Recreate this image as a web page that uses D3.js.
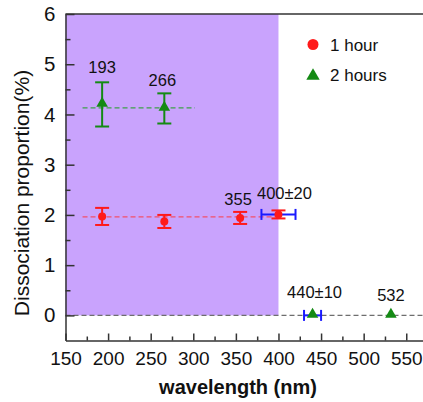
<!DOCTYPE html>
<html><head><meta charset="utf-8">
<script src="https://cdn.jsdelivr.net/npm/d3@7"></script>
<style>
html,body{margin:0;padding:0;background:#fff;}
svg{display:block;font-family:"Liberation Sans",Arial,sans-serif;}
</style></head>
<body>
<svg id="c" width="423" height="402"></svg>
<script>
// ---- data ----
const hour1Wavelength = [193, 266, 355, 400];
const hour1Value      = [1.97, 1.87, 1.94, 2.01];
const hour1Err        = [0.17, 0.13, 0.12, 0.08];
const hour1XErr       = [0, 0, 0, 20];

const hour2Wavelength = [193, 266, 440, 532];
const hour2Value      = [4.20, 4.12, 0, 0];
const hour2Err        = [0.44, 0.30, 0, 0];
const hour2XErr       = [0, 0, 10, 0];

const hour1Mean = 1.96, hour1Span = [170, 400];
const hour2Mean = 4.13, hour2Span = [170, 302];
const uvRegion = [150, 400];

const annotText = ["193", "266", "355", "400\u00b120", "440\u00b110", "532"];
const annotWl   = [193, 266, 355, 400, 440, 532];
const annotVal  = [4.64, 4.42, 2.06, 2.10, 0, 0];

const xTicks = [150, 200, 250, 300, 350, 400, 450, 500, 550];
const yTicks = [0, 1, 2, 3, 4, 5, 6];
const legendLabels = ["1 hour", "2 hours"];

// ---- layout ----
const svg = d3.select("#c");
const x = d3.scaleLinear().domain([150, 570]).range([65.5, 423.3]);
const y = d3.scaleLinear().domain([-0.5, 6]).range([340.5, 14]);
const axisColor = "#333";
const red = "#ff1a1a", green = "#148a14", blue = "#1a1aff";

// purple region
svg.append("rect")
  .attr("x", x(uvRegion[0])).attr("y", y(6))
  .attr("width", x(uvRegion[1]) - x(uvRegion[0]))
  .attr("height", y(0) - y(6))
  .attr("fill", "#c9a3fd");

// dashed lines
svg.append("line").attr("x1", x(150)).attr("x2", x(570)).attr("y1", y(0)).attr("y2", y(0))
  .attr("stroke", "#6e6e6e").attr("stroke-width", 1.2).attr("stroke-dasharray", "5,3");
svg.append("line").attr("x1", x(hour1Span[0])).attr("x2", x(hour1Span[1])).attr("y1", y(hour1Mean)).attr("y2", y(hour1Mean))
  .attr("stroke", "#f2506a").attr("stroke-width", 1.3).attr("stroke-dasharray", "5,3");
svg.append("line").attr("x1", x(hour2Span[0])).attr("x2", x(hour2Span[1])).attr("y1", y(hour2Mean)).attr("y2", y(hour2Mean))
  .attr("stroke", "#3fa04a").attr("stroke-width", 1.3).attr("stroke-dasharray", "5,3");

// axes
const minorX = d3.range(175, 570, 50);
const minorY = [0.5, 1.5, 2.5, 3.5, 4.5, 5.5];

const gx = svg.append("g").attr("transform", `translate(0,${y(-0.5)})`)
  .call(d3.axisBottom(x).tickValues(xTicks).tickSize(-7).tickSizeOuter(0).tickPadding(11).tickFormat(d3.format("d")));
const gxm = svg.append("g").attr("transform", `translate(0,${y(-0.5)})`)
  .call(d3.axisBottom(x).tickValues(minorX).tickSize(-4).tickSizeOuter(0).tickFormat(""));
const gy = svg.append("g").attr("transform", `translate(${x(150)},0)`)
  .call(d3.axisLeft(y).tickValues(yTicks).tickSize(-9).tickSizeOuter(0).tickPadding(10).tickFormat(d3.format("d")));
const gym = svg.append("g").attr("transform", `translate(${x(150)},0)`)
  .call(d3.axisLeft(y).tickValues(minorY).tickSize(-5).tickSizeOuter(0).tickFormat(""));
[gx, gxm, gy, gym].forEach(g => {
  g.selectAll("path,line").attr("stroke", axisColor).attr("stroke-width", 1.5);
  g.selectAll("text").attr("fill", "#111")
    .attr("font-family", "'Liberation Sans',Arial,sans-serif");
});
gx.selectAll("text").attr("font-size", 19);
gy.selectAll("text").attr("font-size", 20.5);
gxm.select("path").remove(); gym.select("path").remove();
// top border
svg.append("line").attr("x1", x(150)).attr("x2", 423).attr("y1", y(6)).attr("y2", y(6))
  .attr("stroke", axisColor).attr("stroke-width", 1.5);

// error bars helper
function vErr(g, cx, v, e, col) {
  if (!e) return;
  g.append("line").attr("x1", cx).attr("x2", cx).attr("y1", y(v - e)).attr("y2", y(v + e)).attr("stroke", col).attr("stroke-width", 2);
  [v - e, v + e].forEach(t => g.append("line").attr("x1", cx - 7).attr("x2", cx + 7).attr("y1", y(t)).attr("y2", y(t)).attr("stroke", col).attr("stroke-width", 2));
}
function hErr(g, wl, v, e, col) {
  if (!e) return;
  const cy = y(v);
  g.append("line").attr("x1", x(wl - e)).attr("x2", x(wl + e)).attr("y1", cy).attr("y2", cy).attr("stroke", col).attr("stroke-width", 2);
  [wl - e, wl + e].forEach(t => g.append("line").attr("x1", x(t)).attr("x2", x(t)).attr("y1", cy - 5.5).attr("y2", cy + 5.5).attr("stroke", col).attr("stroke-width", 2));
}

const marks = svg.append("g");
hour1Wavelength.forEach((wl, i) => {
  hErr(marks, wl, hour1Value[i], hour1XErr[i], blue);
  vErr(marks, x(wl), hour1Value[i], hour1Err[i], red);
  marks.append("circle").attr("cx", x(wl)).attr("cy", y(hour1Value[i])).attr("r", 4).attr("fill", red);
});
hour2Wavelength.forEach((wl, i) => {
  hErr(marks, wl, hour2Value[i], hour2XErr[i], blue);
  vErr(marks, x(wl), hour2Value[i], hour2Err[i], green);
  marks.append("path").attr("d", d3.symbol(d3.symbolTriangle, 58)())
    .attr("transform", `translate(${x(wl)},${y(hour2Value[i]) - 1})`).attr("fill", green);
});

// annotations
const annotDx = [0, -2, -2, 6, 2, 0];
const annotDy = [-9, -7, -7, -11, -17, -14];
annotText.forEach((t, i) => {
  svg.append("text").attr("x", x(annotWl[i]) + annotDx[i]).attr("y", y(annotVal[i]) + annotDy[i])
    .attr("text-anchor", "middle").attr("font-size", 16.5).attr("fill", "#111").text(t);
});

// legend
svg.append("circle").attr("cx", 313).attr("cy", 44.5).attr("r", 5.5).attr("fill", red);
svg.append("text").attr("x", 330).attr("y", 51).attr("font-size", 17).attr("fill", "#111").text(legendLabels[0]);
svg.append("path").attr("d", d3.symbol(d3.symbolTriangle, 78)()).attr("transform", "translate(313,76)").attr("fill", green);
svg.append("text").attr("x", 330).attr("y", 81).attr("font-size", 17).attr("fill", "#111").text(legendLabels[1]);

// axis titles
svg.append("text").attr("x", 238).attr("y", 394).attr("text-anchor", "middle")
  .attr("font-size", 20).attr("font-weight", "bold").attr("fill", "#111").text("wavelength (nm)");
svg.append("text").attr("transform", "translate(29,193) rotate(-90)").attr("text-anchor", "middle")
  .attr("font-size", 21).attr("fill", "#111").text("Dissociation proportion(%)");
</script>
</body></html>
